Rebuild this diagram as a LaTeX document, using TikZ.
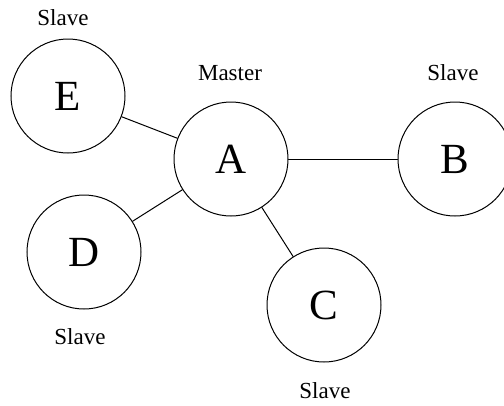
\documentclass[tikz,border=0pt]{standalone}
\usepackage{fontspec}
\setmainfont{Liberation Serif}
\usepackage{tikz}

\begin{document}
\begin{tikzpicture}
		[x=1pt,y=-1pt,line cap=round,
		%Styles
		station/.style={circle,draw,line width=1pt,minimum size=114pt,inner sep=0pt,font=\fontsize{43}{43}\selectfont},
		role text/.style={font=\fontsize{23}{23}\selectfont,inner sep=0pt},
		link/.style={line width=1pt}
		]
		
		\useasboundingbox (0,0) rectangle (504,405);
		
		%The graphic
		\node[station] (A) at (231, 159) {A};
		\node[station] (B) at (455, 159) {B};
		\node[station] (C) at (324, 305) {C};
		\node[station] (D) at (84, 252) {D};
		\node[station] (E) at (68, 96) {E};
		
		\node[role text] (lA) at (230, 73) {Master};
		\node[role text] (lB) at (453, 73) {Slave};
		\node[role text] (lC) at (325, 391) {Slave};
		\node[role text] (lD) at (80, 337) {Slave};
		\node[role text] (lE) at (63, 18) {Slave};
		
		\path[link]
			(A) edge (B)
				edge (C)
				edge (D)
				edge (E);
	\end{tikzpicture}
\end{document}
